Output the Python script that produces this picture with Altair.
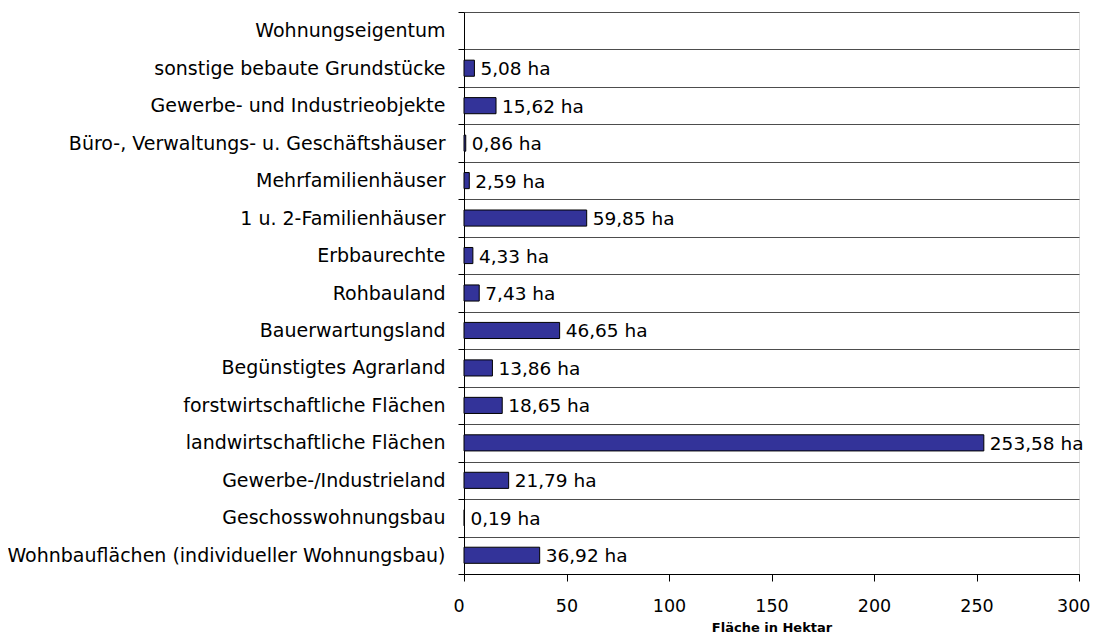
import altair as alt
import pandas as pd

categories = [
    "Wohnungseigentum",
    "sonstige bebaute Grundstücke",
    "Gewerbe- und Industrieobjekte",
    "Büro-, Verwaltungs- u. Geschäftshäuser",
    "Mehrfamilienhäuser",
    "1 u. 2-Familienhäuser",
    "Erbbaurechte",
    "Rohbauland",
    "Bauerwartungsland",
    "Begünstigtes Agrarland",
    "forstwirtschaftliche Flächen",
    "landwirtschaftliche Flächen",
    "Gewerbe-/Industrieland",
    "Geschosswohnungsbau",
    "Wohnbauflächen (individueller Wohnungsbau)",
]
values = [None, 5.08, 15.62, 0.86, 2.59, 59.85, 4.33, 7.43, 46.65, 13.86,
          18.65, 253.58, 21.79, 0.19, 36.92]
x_ticks = [0, 50, 100, 150, 200, 250, 300]

df = pd.DataFrame({"cat": categories, "v": values})

FONT = "DejaVu Sans"

y_enc = alt.Y(
    "cat:N",
    sort=categories,
    title=None,
    scale=alt.Scale(paddingInner=0, paddingOuter=0),
    axis=alt.Axis(
        tickBand="extent",
        grid=True,
        gridColor="#4d4d4d",
        gridWidth=1,
        domainColor="#000000",
        tickColor="#000000",
        tickSize=6,
        labelPadding=13,
        labelFont=FONT,
        labelFontSize=19,
        labelColor="#000000",
        labelLimit=600,
    ),
)

x_enc = alt.X(
    "v:Q",
    scale=alt.Scale(domain=[0, 300], nice=False),
    axis=alt.Axis(
        values=x_ticks,
        grid=False,
        title="Fläche in Hektar",
        titleFont=FONT,
        titleFontSize=13,
        titleFontWeight="bold",
        titleColor="#000000",
        titleY=47,
        titleBaseline="top",
        domainColor="#000000",
        tickColor="#000000",
        tickSize=7,
        labelPadding=16,
        labelFont=FONT,
        labelFontSize=17.5,
        labelColor="#000000",
        labelFlush=True,
        labelFlushOffset=11,
    ),
)

bars = alt.Chart(df).mark_bar(
    height=alt.RelativeBandSize(0.43),
    color="#333399",
    stroke="#000000",
    strokeWidth=1,
).encode(x=x_enc, y=y_enc)

labels = alt.Chart(df).transform_filter(
    "isValid(datum.v)"
).transform_calculate(
    lbl="replace(format(datum.v, '.2f'), '.', ',') + ' ha'"
).mark_text(
    align="left",
    baseline="middle",
    dx=6,
    dy=1,
    font=FONT,
    fontSize=18.5,
    color="#000000",
).encode(
    x=alt.X("v:Q", scale=alt.Scale(domain=[0, 300], nice=False)),
    y=alt.Y("cat:N", sort=categories),
    text="lbl:N",
)

chart = alt.layer(bars, labels).properties(
    width=615,
    height=562,
    autosize=alt.AutoSizeParams(type="none"),
    padding={"left": 456, "top": 4, "right": 12, "bottom": 60},
).configure_view(stroke=None).configure(background="#ffffff")

chart.save("out.html", embed_options={"renderer": "svg", "actions": False})
